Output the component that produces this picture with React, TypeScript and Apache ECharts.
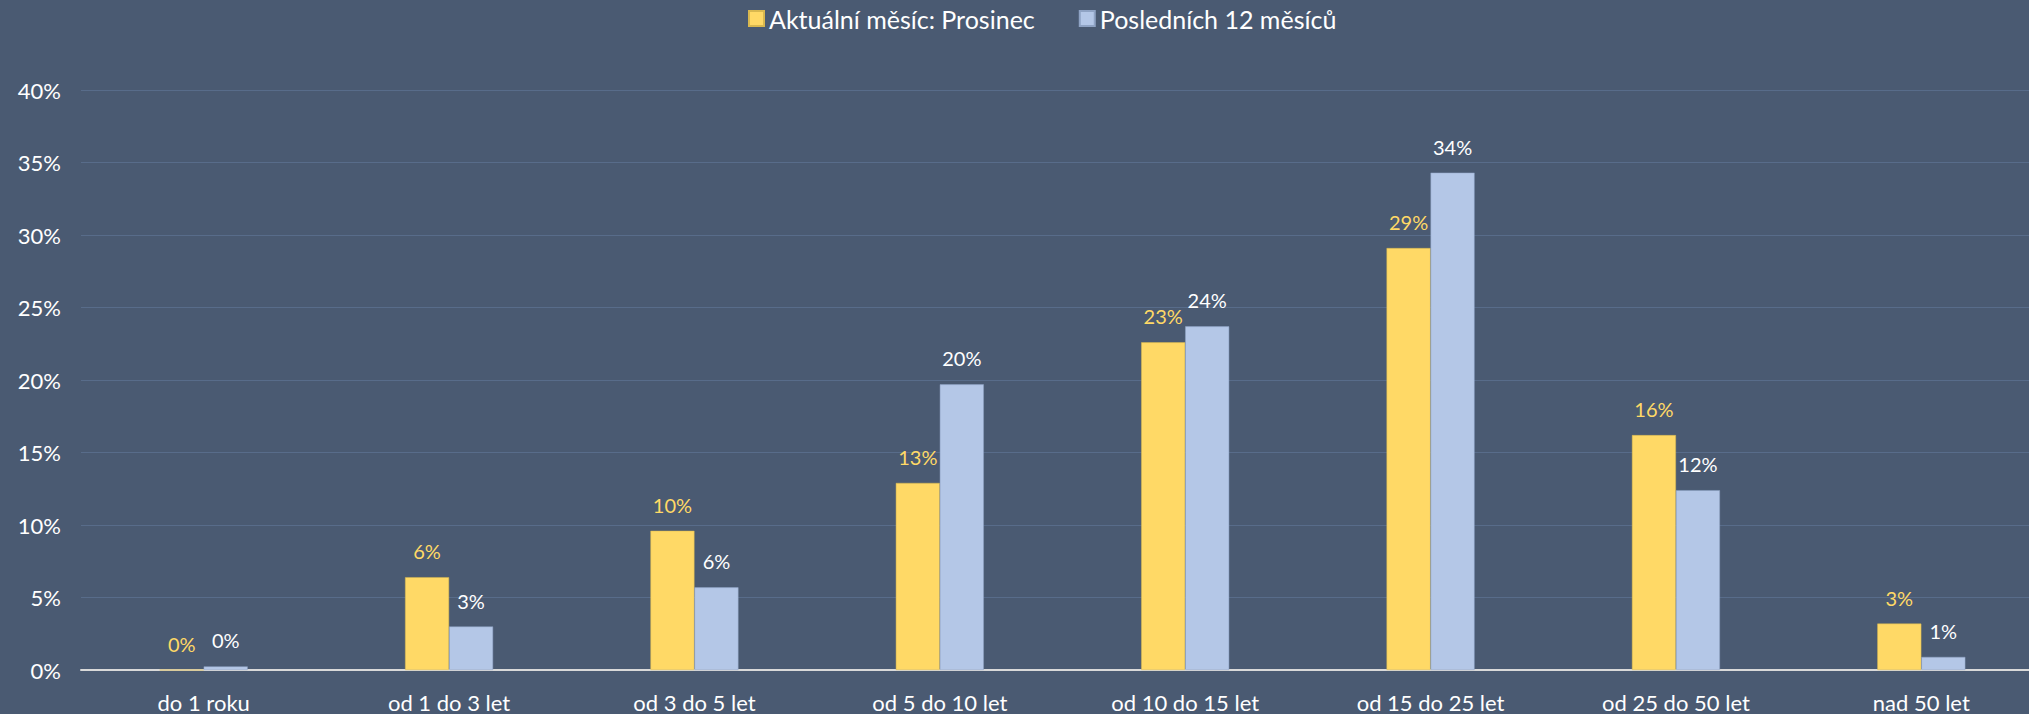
import React, { useEffect, useRef } from "react";
import * as echarts from "echarts";

const categories = [
  "do 1 roku",
  "od 1 do 3 let",
  "od 3 do 5 let",
  "od 5 do 10 let",
  "od 10 do 15 let",
  "od 15 do 25 let",
  "od 25 do 50 let",
  "nad 50 let",
];
const currentMonth = [0.0, 6.4, 9.6, 12.9, 22.6, 29.1, 16.2, 3.2];
const last12Months = [0.25, 3.0, 5.7, 19.7, 23.7, 34.3, 12.4, 0.9];
const seriesNames = ["Aktuální měsíc: Prosinec", "Posledních 12 měsíců"];

const FONT = "Lato, 'Noto Sans', sans-serif";

export default function App() {
  const ref = useRef<HTMLDivElement>(null);
  useEffect(() => {
    document.body.style.margin = "0";
    document.body.style.overflow = "hidden";
    document.body.style.background = "#4A5A72";
    const chart = echarts.init(ref.current!, null, { renderer: "svg" });
    chart.setOption({
      animation: false,
      backgroundColor: "#4A5A72",
      textStyle: { fontFamily: FONT },
      legend: {
        top: 1,
        left: 743,
        itemWidth: 15,
        itemHeight: 15,
        itemGap: 44,
        icon: "rect",
        textStyle: { color: "#FFFFFF", fontSize: 25, fontFamily: FONT },
        data: seriesNames,
      },
      grid: { left: 81, top: 90, right: 16, bottom: 44, containLabel: false },
      xAxis: {
        type: "category",
        data: categories,
        axisLine: { lineStyle: { color: "#D9D9D9", width: 2 } },
        axisTick: { show: false },
        axisLabel: { color: "#FFFFFF", fontSize: 22, margin: 21, fontFamily: FONT },
      },
      yAxis: {
        type: "value",
        min: 0,
        max: 40,
        interval: 5,
        axisLine: { show: false },
        axisTick: { show: false },
        splitLine: { lineStyle: { color: "#586C8A", width: 1 } },
        axisLabel: {
          color: "#FFFFFF",
          fontSize: 22,
          margin: 20,
          fontFamily: FONT,
          formatter: (v: number) => v + "%",
        },
      },
      series: [
        {
          name: seriesNames[0],
          type: "bar",
          data: currentMonth,
          barWidth: 44,
          barGap: "0%",
          itemStyle: { color: "#FFD966", borderColor: "#D9B84F", borderWidth: 0.5 },
          label: {
            show: true,
            position: "top",
            distance: 16,
            color: "#FFD966",
            fontSize: 20,
            fontFamily: FONT,
            formatter: (p: any) => Math.round(p.value) + "%",
          },
        },
        {
          name: seriesNames[1],
          type: "bar",
          data: last12Months,
          barWidth: 44,
          barGap: "0%",
          itemStyle: { color: "#B4C7E7", borderColor: "#8FA3C4", borderWidth: 0.5 },
          label: {
            show: true,
            position: "top",
            distance: 16,
            color: "#FFFFFF",
            fontSize: 20,
            fontFamily: FONT,
            formatter: (p: any) => Math.round(p.value) + "%",
          },
        },
      ],
    });
    return () => chart.dispose();
  }, []);
  return <div ref={ref} style={{ width: 2060, height: 714 }} />;
}
